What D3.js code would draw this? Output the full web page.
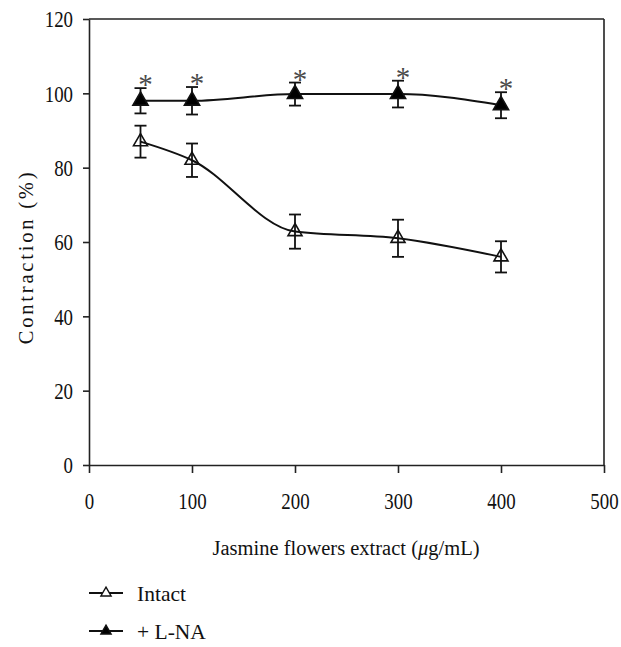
<!DOCTYPE html>
<html>
<head>
<meta charset="utf-8">
<script src="https://cdn.jsdelivr.net/npm/d3@7"></script>
<style>
html,body{margin:0;padding:0;background:#fff;}
svg{display:block;}
text{font-family:"Liberation Serif","Times New Roman",serif;fill:#111;}
</style>
</head>
<body>
<svg id="chart" width="621" height="647"></svg>
<script>
// ---- data ----
const doses = [50, 100, 200, 300, 400];
const intactMean = [87, 82, 62.8, 61, 56];
const intactErr = [4.3, 4.5, 4.6, 5, 4.2];
const lnaMean = [98, 98, 99.8, 99.8, 96.8];
const lnaErr = [3.4, 3.7, 3.1, 3.6, 3.5];
const lnaStar = ["*", "*", "*", "*", "*"];
const xTicks = [0, 100, 200, 300, 400, 500];
const yTicks = [0, 20, 40, 60, 80, 100, 120];
const seriesNames = ["Intact", "+ L-NA"];

const svg = d3.select("#chart");
const x = d3.scaleLinear().domain([0, 500]).range([89, 604]);
const y = d3.scaleLinear().domain([0, 120]).range([465, 19]);
const SX = 0.82; // horizontal condensing of tick label glyphs

// frame (top, right)
svg.append("line").attr("x1", x(0)).attr("x2", x(500)).attr("y1", y(120)).attr("y2", y(120))
  .attr("stroke", "#222").attr("stroke-width", 1.6);
svg.append("line").attr("x1", x(500)).attr("x2", x(500)).attr("y1", y(120)).attr("y2", y(0))
  .attr("stroke", "#222").attr("stroke-width", 1.6);

// axes
const xAxis = svg.append("g").attr("transform", `translate(0,${y(0)})`)
  .call(d3.axisBottom(x).tickValues(xTicks).tickSize(8).tickSizeOuter(0).tickPadding(20));
const yAxis = svg.append("g").attr("transform", `translate(${x(0)},0)`)
  .call(d3.axisLeft(y).tickValues(yTicks).tickSize(6).tickSizeOuter(0).tickPadding(10));
[xAxis, yAxis].forEach(g => {
  g.selectAll("path").attr("stroke", "#222").attr("stroke-width", 1.6);
  g.selectAll("line").attr("stroke", "#222").attr("stroke-width", 1.6);
  g.selectAll("text").attr("font-size", 23).attr("fill", "#111")
    .style("font-family", '"Liberation Serif",serif');
});
xAxis.selectAll("text").attr("dy", "0.71em").attr("transform", `scale(${SX},1)`);
yAxis.selectAll("text").attr("x", -16 / SX).attr("dy", "0.34em").attr("transform", `scale(${SX},1)`);

// axis titles
const xt = svg.append("text").attr("x", 346).attr("y", 555).attr("text-anchor", "middle")
  .attr("font-size", 20.5);
xt.append("tspan").text("Jasmine flowers extract (");
xt.append("tspan").attr("font-style", "italic").text("μ");
xt.append("tspan").text("g/mL)");

svg.append("text").attr("transform", "translate(26,257) rotate(-90)")
  .attr("text-anchor", "middle").attr("dy", "0.35em").attr("font-size", 20.5)
  .attr("letter-spacing", "2.8px").text("Contraction (%)");

const line = d3.line().x((d, i) => x(doses[i])).y(d => y(d)).curve(d3.curveMonotoneX);

function drawSeries(mean, err, filled) {
  const g = svg.append("g");
  g.append("path").attr("d", line(mean)).attr("fill", "none")
    .attr("stroke", "#111").attr("stroke-width", 2);
  mean.forEach((m, i) => {
    const cx = x(doses[i]);
    const y1 = y(m + err[i]), y2 = y(m - err[i]);
    g.append("line").attr("x1", cx).attr("x2", cx).attr("y1", y1).attr("y2", y2)
      .attr("stroke", "#111").attr("stroke-width", 1.8);
    [y1, y2].forEach(yy => g.append("line").attr("x1", cx - 6).attr("x2", cx + 6)
      .attr("y1", yy).attr("y2", yy).attr("stroke", "#111").attr("stroke-width", 1.8));
    g.append("path").attr("transform", `translate(${cx},${y(m)})`)
      .attr("d", d3.symbol(d3.symbolTriangle, filled ? 100 : 85)())
      .attr("fill", filled ? "#000" : "none").attr("stroke", "#111").attr("stroke-width", 1.6);
  });
  return g;
}
drawSeries(intactMean, intactErr, false);
drawSeries(lnaMean, lnaErr, true);

// significance stars
svg.append("g").selectAll("text").data(lnaStar).join("text")
  .attr("x", (d, i) => x(doses[i]) + 5)
  .attr("y", (d, i) => y(lnaMean[i] + lnaErr[i]) + 6)
  .attr("text-anchor", "middle").attr("font-size", 29)
  .style("fill", "#4a4a4a").text(d => d);

// legend
const legY = [593, 631];
seriesNames.forEach((name, i) => {
  const g = svg.append("g");
  g.append("line").attr("x1", 89).attr("x2", 123).attr("y1", legY[i]).attr("y2", legY[i])
    .attr("stroke", "#111").attr("stroke-width", 1.8);
  g.append("path").attr("transform", `translate(106,${legY[i]})`)
    .attr("d", d3.symbol(d3.symbolTriangle, 45)())
    .attr("fill", i === 1 ? "#000" : "#fff").attr("stroke", "#111").attr("stroke-width", 1.4);
  g.append("text").attr("x", 137).attr("y", legY[i]).attr("dy", "0.35em")
    .attr("font-size", 21.5).text(name);
});
</script>
</body>
</html>
